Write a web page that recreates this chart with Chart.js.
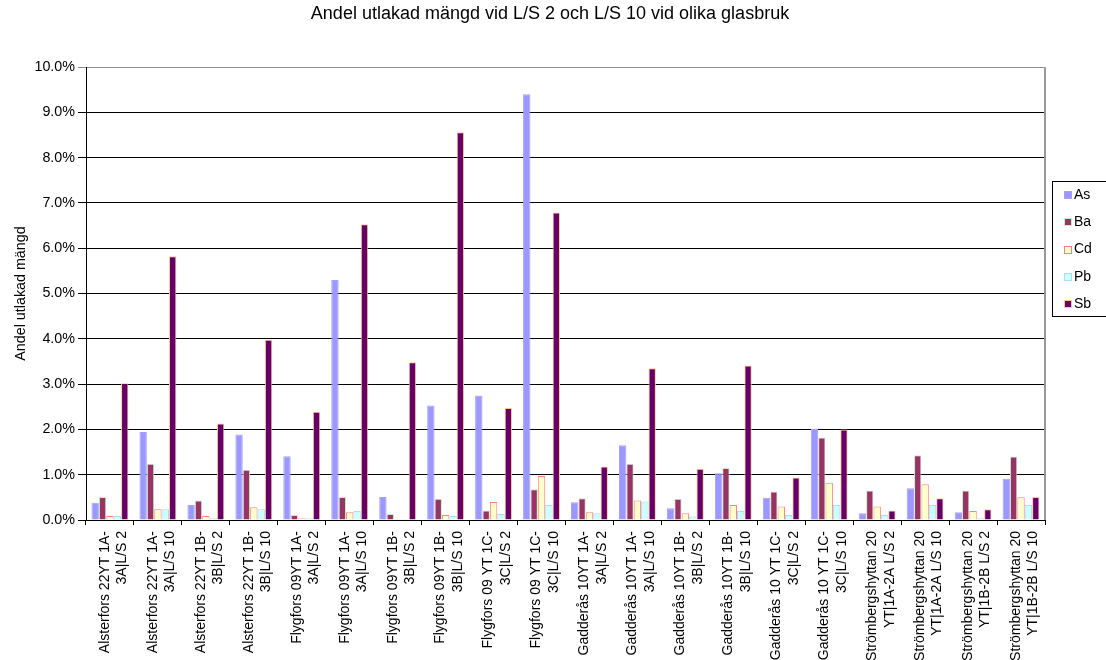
<!DOCTYPE html>
<html>
<head>
<meta charset="utf-8">
<script src="https://cdn.jsdelivr.net/npm/chart.js@4/dist/chart.umd.min.js"></script>
<style>
    body { margin: 0; background: #fff; }
    #wrap { width: 1106px; height: 660px; }
</style>
</head>
<body>
<div id="wrap"><canvas id="leachChart" width="1106" height="660"></canvas></div>
<script>
// Samples (two label lines each)
const samples = [
    ['Alsterfors 22YT 1A-', '3A|L/S 2'],
    ['Alsterfors 22YT 1A-', '3A|L/S 10'],
    ['Alsterfors 22YT 1B-', '3B|L/S 2'],
    ['Alsterfors 22YT 1B-', '3B|L/S 10'],
    ['Flygfors 09YT 1A-', '3A|L/S 2'],
    ['Flygfors 09YT 1A-', '3A|L/S 10'],
    ['Flygfors 09YT 1B-', '3B|L/S 2'],
    ['Flygfors 09YT 1B-', '3B|L/S 10'],
    ['Flygfors 09 YT 1C-', '3C|L/S 2'],
    ['Flygfors 09 YT 1C-', '3C|L/S 10'],
    ['Gadderås 10YT 1A-', '3A|L/S 2'],
    ['Gadderås 10YT 1A-', '3A|L/S 10'],
    ['Gadderås 10YT 1B-', '3B|L/S 2'],
    ['Gadderås 10YT 1B-', '3B|L/S 10'],
    ['Gadderås 10 YT 1C-', '3C|L/S 2'],
    ['Gadderås 10 YT 1C-', '3C|L/S 10'],
    ['Strömbergshyttan 20', 'YT|1A-2A L/S 2'],
    ['Strömbergshyttan 20', 'YT|1A-2A L/S 10'],
    ['Strömbergshyttan 20', 'YT|1B-2B L/S 2'],
    ['Strömbergshyttan 20', 'YT|1B-2B L/S 10']
];

// Leached share in percent
const asVals = [0.38, 1.94, 0.33, 1.89, 1.41, 5.30, 0.51, 2.53, 2.75, 9.40, 0.39, 1.65, 0.26, 1.03, 0.49, 2.01, 0.15, 0.70, 0.17, 0.91];
const baVals = [0.51, 1.24, 0.43, 1.11, 0.11, 0.51, 0.13, 0.47, 0.21, 0.68, 0.48, 1.24, 0.47, 1.15, 0.63, 1.82, 0.65, 1.43, 0.65, 1.40];
const cdVals = [0.09, 0.24, 0.09, 0.28, 0.04, 0.17, 0.02, 0.11, 0.40, 0.97, 0.17, 0.43, 0.15, 0.33, 0.30, 0.82, 0.30, 0.79, 0.20, 0.50];
const pbVals = [0.09, 0.24, 0.04, 0.24, 0.04, 0.20, 0.02, 0.09, 0.13, 0.33, 0.15, 0.41, 0.08, 0.20, 0.11, 0.33, 0.11, 0.33, 0.04, 0.33];
const sbVals = [3.02, 5.82, 2.13, 3.98, 2.39, 6.53, 3.48, 8.56, 2.47, 6.79, 1.18, 3.35, 1.13, 3.41, 0.94, 2.00, 0.21, 0.48, 0.24, 0.51];

const FONT = 'Liberation Sans, Arial, sans-serif';

function series(label, data, fill, edge) {
    return {
        label: label,
        data: data,
        backgroundColor: fill,
        borderColor: edge,
        borderWidth: 1,
        categoryPercentage: 0.77,
        barPercentage: 1.0
    };
}

// Title, plot frame and boxed legend
const decorations = {
    id: 'decorations',
    beforeDatasetsDraw(chart) {
        const { ctx, chartArea } = chart;
        ctx.save();
        ctx.strokeStyle = '#999';
        ctx.lineWidth = 2;
        ctx.beginPath();
        ctx.moveTo(chartArea.right, chartArea.top);
        ctx.lineTo(chartArea.right, chartArea.bottom);
        ctx.stroke();
        ctx.restore();
    },
    afterDraw(chart) {
        const ctx = chart.ctx;
        ctx.save();
        ctx.fillStyle = '#000';
        ctx.font = '18px ' + FONT;
        ctx.textAlign = 'center';
        ctx.textBaseline = 'middle';
        ctx.fillText('Andel utlakad mängd vid L/S 2 och L/S 10 vid olika glasbruk', 550, 14);

        // legend
        ctx.strokeStyle = '#000';
        ctx.lineWidth = 1;
        ctx.strokeRect(1052.5, 181.5, 80, 135);
        ctx.font = '14px ' + FONT;
        ctx.textAlign = 'left';
        chart.data.datasets.forEach((ds, i) => {
            const y = 195 + i * 27.3;
            ctx.fillStyle = ds.backgroundColor;
            ctx.fillRect(1065, Math.round(y) - 3, 6, 6);
            ctx.strokeStyle = ds.borderColor;
            ctx.strokeRect(1064.5, Math.round(y) - 3.5, 7, 7);
            ctx.fillStyle = '#000';
            ctx.fillText(ds.label, 1074, y);
        });
        ctx.restore();
    }
};

new Chart(document.getElementById('leachChart'), {
    type: 'bar',
    data: {
        labels: samples,
        datasets: [
            series('As', asVals, '#9999FF', '#AE9CFF'),
            series('Ba', baVals, '#993366', '#C8F0C8'),
            series('Cd', cdVals, '#FFFFCC', '#FF8080'),
            series('Pb', pbVals, '#CCFFFF', '#A8DCF8'),
            series('Sb', sbVals, '#660066', '#FFC899')
        ]
    },
    options: {
        responsive: false,
        animation: false,
        layout: { padding: { top: 67, right: 61, left: 0, bottom: 0 } },
        plugins: {
            legend: { display: false },
            title: { display: false },
            tooltip: { enabled: false }
        },
        scales: {
            x: {
                grid: {
                    offset: true,
                    drawOnChartArea: false,
                    drawTicks: true,
                    tickLength: 5,
                    color: '#000'
                },
                border: { color: '#000', width: 1 },
                ticks: {
                    autoSkip: false,
                    minRotation: 90,
                    maxRotation: 90,
                    color: '#000',
                    padding: 6,
                    labelOffset: -5,
                    font: { family: FONT, size: 14, lineHeight: 1.25 }
                },
                afterFit(scale) { scale.height = 140; }
            },
            y: {
                min: 0,
                max: 10,
                grid: {
                    color: ctx => ctx.tick && ctx.tick.value >= 10 ? '#8c8c8c' : '#000',
                    tickLength: 8
                },
                border: { color: '#000', width: 1 },
                ticks: {
                    stepSize: 1,
                    color: '#000',
                    padding: 3,
                    font: { family: FONT, size: 14.3 },
                    callback: v => v.toFixed(1) + '%'
                },
                title: {
                    display: true,
                    text: 'Andel utlakad mängd',
                    color: '#000',
                    font: { family: FONT, size: 14.3 },
                    padding: { top: 12, bottom: 0 }
                },
                afterFit(scale) { scale.width = 86; }
            }
        }
    },
    plugins: [decorations]
});
</script>
</body>
</html>
